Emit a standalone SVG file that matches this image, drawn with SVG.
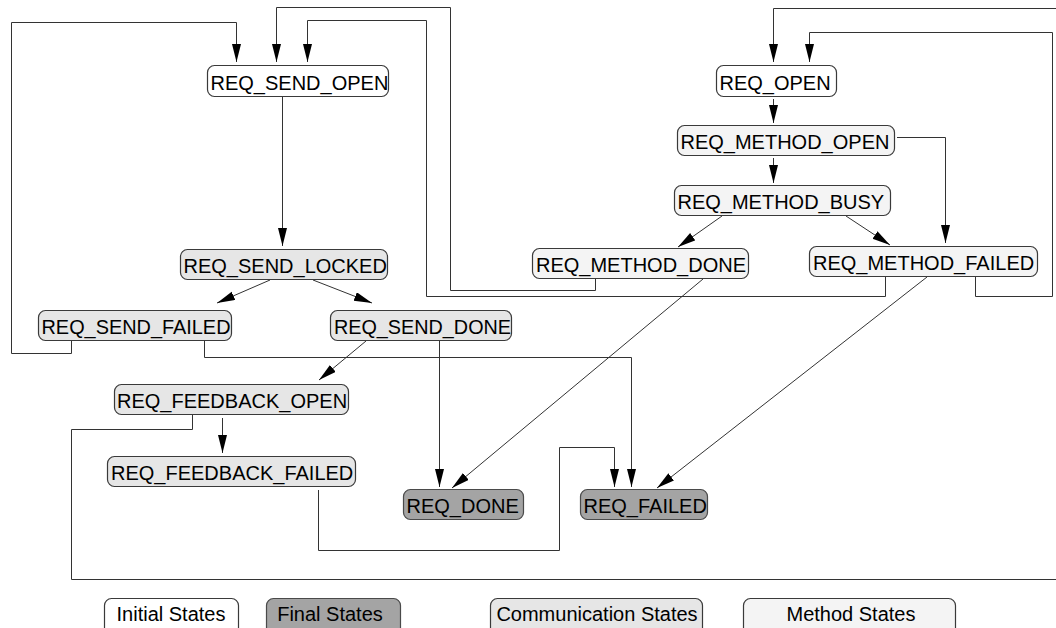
<svg xmlns="http://www.w3.org/2000/svg" width="1056" height="628" viewBox="0 0 1056 628">
<defs>
<marker id="arr" markerUnits="userSpaceOnUse" markerWidth="18" markerHeight="10" refX="18" refY="4.5" orient="auto">
<path d="M0,0 L18,4.5 L0,9 z" fill="#000"/>
</marker>
<style>
.n rect{stroke:#3a3a3a;stroke-width:1.2}
.ini rect{fill:#ffffff}
.fin rect{fill:#a4a4a4;stroke:#4a4a4a}
.com rect{fill:#e6e6e6}
.met rect{fill:#f4f4f4}
text{font-family:"Liberation Sans",Arial,sans-serif;font-size:20px;fill:#000}
.lg text{text-anchor:middle}
#connectors path{fill:none;stroke:#333;stroke-width:1}
#connectors .a{marker-end:url(#arr)}
</style>
</defs>
<rect width="1056" height="628" fill="#fff"/>
<g id="connectors">
<path class="a" d="M282.5,96 V246"/>
<path class="a" d="M270,280 L217,303"/>
<path class="a" d="M313,280 L372,303"/>
<path class="a" d="M71.5,341 V353.5 H11.5 V22.5 H236.5 V62"/>
<path class="a" d="M204.5,341 V357.5 H631.5 V487"/>
<path class="a" d="M366,341 L319,380"/>
<path class="a" d="M439.5,341 V487"/>
<path class="a" d="M222.5,418 V453"/>
<path class="a" d="M192.5,415 V429.5 H71.5 V579.5 H1070 V8.5 H773.5 V62"/>
<path class="a" d="M318.5,490 V550.5 H559.5 V447.5 H614.5 V487"/>
<path class="a" d="M773.5,99 V123"/>
<path class="a" d="M773.5,158 V183"/>
<path class="a" d="M897,137.5 H945.5 V243"/>
<path class="a" d="M722,216 L678,247"/>
<path class="a" d="M846,216 L890,245"/>
<path class="a" d="M595.5,279 V290.5 H450.5 V7.5 H276.5 V62"/>
<path class="a" d="M885.5,277 V296.5 H426.5 V20.5 H307.5 V62"/>
<path class="a" d="M975.5,277 V296.5 H1052.5 V32.5 H809.5 V62"/>
<path class="a" d="M703,279 L452,488"/>
<path class="a" d="M927,277 L657,488"/>
</g>
<g id="REQ_SEND_OPEN" class="n ini"><rect x="207.5" y="65.5" width="181" height="31" rx="7"/><text x="210.5" y="89.5">REQ_SEND_OPEN</text></g>
<g id="REQ_OPEN" class="n ini"><rect x="716.5" y="65.5" width="120" height="31" rx="7"/><text x="719.5" y="89.5">REQ_OPEN</text></g>
<g id="REQ_METHOD_OPEN" class="n met"><rect x="677.5" y="125.5" width="217" height="30" rx="7"/><text x="680.5" y="149">REQ_METHOD_OPEN</text></g>
<g id="REQ_METHOD_BUSY" class="n met"><rect x="674.5" y="185.5" width="216" height="30" rx="7"/><text x="677.5" y="209">REQ_METHOD_BUSY</text></g>
<g id="REQ_SEND_LOCKED" class="n com"><rect x="180.5" y="249.5" width="207" height="30" rx="7"/><text x="183.5" y="273">REQ_SEND_LOCKED</text></g>
<g id="REQ_METHOD_DONE" class="n met"><rect x="532.5" y="248.5" width="216" height="30" rx="7"/><text x="536" y="272">REQ_METHOD_DONE</text></g>
<g id="REQ_METHOD_FAILED" class="n met"><rect x="809.5" y="246.5" width="228" height="30" rx="7"/><text x="813" y="270">REQ_METHOD_FAILED</text></g>
<g id="REQ_SEND_FAILED" class="n com"><rect x="38.5" y="310.5" width="193" height="30" rx="7"/><text x="41.5" y="334" textLength="189" lengthAdjust="spacingAndGlyphs">REQ_SEND_FAILED</text></g>
<g id="REQ_SEND_DONE" class="n com"><rect x="330.5" y="310.5" width="181" height="30" rx="7"/><text x="334" y="334" textLength="177" lengthAdjust="spacingAndGlyphs">REQ_SEND_DONE</text></g>
<g id="REQ_FEEDBACK_OPEN" class="n com"><rect x="114.5" y="384.5" width="234" height="30" rx="7"/><text x="117" y="408">REQ_FEEDBACK_OPEN</text></g>
<g id="REQ_FEEDBACK_FAILED" class="n com"><rect x="107.5" y="456.5" width="248" height="30" rx="7"/><text x="111" y="480">REQ_FEEDBACK_FAILED</text></g>
<g id="REQ_DONE" class="n fin"><rect x="403.5" y="489.5" width="120" height="30" rx="7"/><text x="406.5" y="513">REQ_DONE</text></g>
<g id="REQ_FAILED" class="n fin"><rect x="580.5" y="489.5" width="127" height="30" rx="7"/><text x="583.5" y="513">REQ_FAILED</text></g>
<g id="legend" class="lg">
<g id="legend_initial" class="n ini"><rect x="104.5" y="598.5" width="134" height="40" rx="7"/><text x="171" y="621">Initial States</text></g>
<g id="legend_final" class="n fin"><rect x="266.5" y="598.5" width="134" height="40" rx="7"/><text x="330" y="621">Final States</text></g>
<g id="legend_comm" class="n com"><rect x="490.5" y="598.5" width="212" height="40" rx="7"/><text x="597" y="621">Communication States</text></g>
<g id="legend_method" class="n met"><rect x="743.5" y="598.5" width="212" height="40" rx="7"/><text x="851" y="621">Method States</text></g>
</g>
</svg>
